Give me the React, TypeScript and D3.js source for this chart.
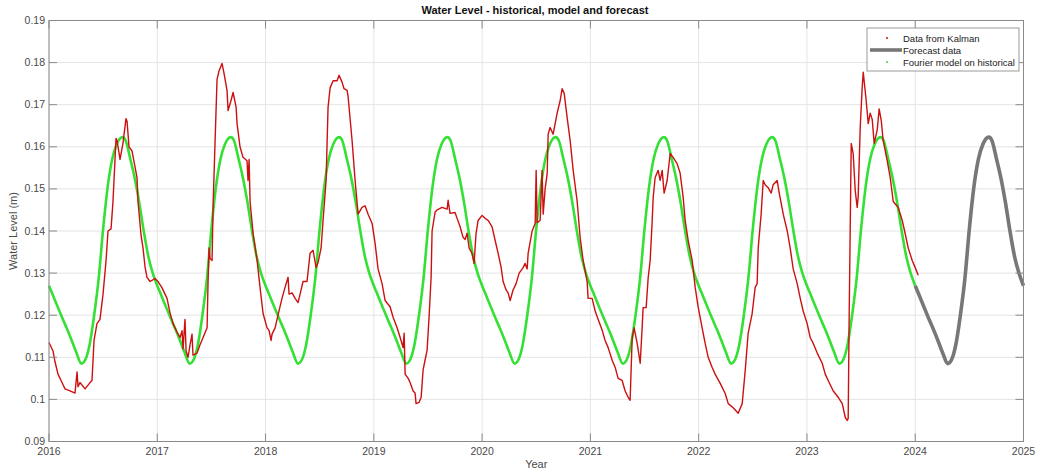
import * as d3 from 'd3';

// axis ticks
const years = [2016, 2017, 2018, 2019, 2020, 2021, 2022, 2023, 2024, 2025];
const levelTicks = [0.09, 0.1, 0.11, 0.12, 0.13, 0.14, 0.15, 0.16, 0.17, 0.18, 0.19];
const levelTickLabels = ['0.09', '0.1', '0.11', '0.12', '0.13', '0.14', '0.15', '0.16', '0.17', '0.18', '0.19'];

// Kalman-filtered water level, [decimal year, level in m]
const kalman: [number, number][] = [
	[2016.0, 0.1135], [2016.037, 0.1115], [2016.055, 0.109], [2016.083, 0.106], [2016.12, 0.104],
	[2016.148, 0.1025], [2016.194, 0.102], [2016.24, 0.1015], [2016.259, 0.1065], [2016.268, 0.103],
	[2016.286, 0.104], [2016.333, 0.1025], [2016.379, 0.104], [2016.397, 0.1045], [2016.416, 0.114],
	[2016.443, 0.118], [2016.471, 0.119], [2016.499, 0.125], [2016.527, 0.133], [2016.545, 0.14],
	[2016.573, 0.1405], [2016.591, 0.147], [2016.619, 0.162], [2016.628, 0.1615], [2016.656, 0.157],
	[2016.684, 0.161], [2016.711, 0.1667], [2016.721, 0.166], [2016.739, 0.16], [2016.767, 0.159],
	[2016.813, 0.1527], [2016.822, 0.147], [2016.85, 0.139], [2016.868, 0.136], [2016.887, 0.1315],
	[2016.905, 0.129], [2016.933, 0.128], [2016.979, 0.1287], [2017.007, 0.128], [2017.044, 0.1265],
	[2017.09, 0.124], [2017.118, 0.1205], [2017.146, 0.118], [2017.182, 0.116], [2017.21, 0.1147],
	[2017.229, 0.1163], [2017.238, 0.112], [2017.256, 0.119], [2017.266, 0.1115], [2017.284, 0.11],
	[2017.303, 0.113], [2017.321, 0.1155], [2017.33, 0.1105], [2017.367, 0.111], [2017.395, 0.113],
	[2017.423, 0.1147], [2017.46, 0.117], [2017.469, 0.128], [2017.478, 0.136], [2017.487, 0.1335],
	[2017.506, 0.133], [2017.515, 0.1456], [2017.534, 0.1615], [2017.552, 0.176], [2017.57, 0.178],
	[2017.598, 0.1798], [2017.617, 0.1774], [2017.644, 0.1734], [2017.654, 0.1686], [2017.681, 0.171],
	[2017.7, 0.1729], [2017.728, 0.1694], [2017.737, 0.1655], [2017.764, 0.16], [2017.792, 0.1575],
	[2017.829, 0.1567], [2017.838, 0.152], [2017.848, 0.157], [2017.857, 0.147], [2017.885, 0.1394],
	[2017.922, 0.133], [2017.949, 0.1266], [2017.977, 0.1204], [2018.014, 0.117], [2018.032, 0.1164],
	[2018.051, 0.114], [2018.06, 0.1155], [2018.088, 0.117], [2018.115, 0.12], [2018.152, 0.124],
	[2018.18, 0.1266], [2018.208, 0.129], [2018.217, 0.125], [2018.245, 0.1253], [2018.273, 0.124],
	[2018.3, 0.123], [2018.319, 0.125], [2018.346, 0.128], [2018.383, 0.128], [2018.411, 0.1347],
	[2018.439, 0.1354], [2018.467, 0.1313], [2018.485, 0.1325], [2018.513, 0.136], [2018.531, 0.1425],
	[2018.559, 0.152], [2018.577, 0.1693], [2018.596, 0.174], [2018.624, 0.1757], [2018.661, 0.1757],
	[2018.679, 0.177], [2018.707, 0.1753], [2018.725, 0.1738], [2018.753, 0.1734], [2018.762, 0.172],
	[2018.799, 0.1615], [2018.827, 0.152], [2018.855, 0.144], [2018.891, 0.1456], [2018.919, 0.146],
	[2018.947, 0.144], [2018.984, 0.1418], [2019.012, 0.137], [2019.039, 0.131], [2019.076, 0.1275],
	[2019.104, 0.1235], [2019.15, 0.122], [2019.178, 0.1195], [2019.215, 0.117], [2019.243, 0.1147],
	[2019.27, 0.1123], [2019.28, 0.1157], [2019.289, 0.106], [2019.317, 0.105], [2019.335, 0.104],
	[2019.363, 0.102], [2019.381, 0.1015], [2019.39, 0.099], [2019.418, 0.0993], [2019.437, 0.1005],
	[2019.455, 0.107], [2019.473, 0.1093], [2019.492, 0.1117], [2019.51, 0.1195], [2019.529, 0.129],
	[2019.538, 0.14], [2019.566, 0.1445], [2019.584, 0.145], [2019.63, 0.1456], [2019.677, 0.1452],
	[2019.686, 0.1473], [2019.704, 0.1442], [2019.75, 0.1444], [2019.769, 0.143], [2019.797, 0.141],
	[2019.824, 0.1385], [2019.843, 0.138], [2019.861, 0.1395], [2019.88, 0.136], [2019.907, 0.1347],
	[2019.926, 0.1323], [2019.944, 0.1394], [2019.963, 0.1425], [2020.0, 0.1437], [2020.028, 0.143],
	[2020.056, 0.1425], [2020.092, 0.141], [2020.12, 0.1378], [2020.148, 0.1347], [2020.176, 0.1313],
	[2020.194, 0.128], [2020.222, 0.126], [2020.24, 0.1253], [2020.259, 0.1235], [2020.286, 0.126],
	[2020.314, 0.1275], [2020.342, 0.13], [2020.379, 0.1313], [2020.397, 0.1323], [2020.416, 0.131],
	[2020.425, 0.1347], [2020.462, 0.14], [2020.49, 0.1418], [2020.499, 0.1544], [2020.508, 0.142],
	[2020.536, 0.1425], [2020.554, 0.1544], [2020.564, 0.144], [2020.582, 0.15], [2020.601, 0.1537],
	[2020.61, 0.163], [2020.628, 0.1646], [2020.656, 0.163], [2020.693, 0.168], [2020.721, 0.171],
	[2020.739, 0.1738], [2020.758, 0.1727], [2020.785, 0.167], [2020.813, 0.1615], [2020.841, 0.1544],
	[2020.878, 0.147], [2020.905, 0.1385], [2020.933, 0.133], [2020.97, 0.128], [2020.979, 0.124],
	[2021.016, 0.124], [2021.044, 0.121], [2021.072, 0.119], [2021.109, 0.1164], [2021.136, 0.114],
	[2021.164, 0.1123], [2021.201, 0.1093], [2021.229, 0.1076], [2021.256, 0.105], [2021.293, 0.1045],
	[2021.321, 0.102], [2021.349, 0.1005], [2021.367, 0.0998], [2021.386, 0.1147], [2021.404, 0.117],
	[2021.432, 0.1133], [2021.46, 0.1086], [2021.478, 0.117], [2021.487, 0.1218], [2021.515, 0.1218],
	[2021.534, 0.129], [2021.552, 0.133], [2021.571, 0.1425], [2021.58, 0.148], [2021.598, 0.1527],
	[2021.626, 0.1544], [2021.644, 0.152], [2021.663, 0.1544], [2021.681, 0.149], [2021.709, 0.152],
	[2021.737, 0.1584], [2021.764, 0.1575], [2021.801, 0.156], [2021.829, 0.1537], [2021.857, 0.148],
	[2021.875, 0.1425], [2021.903, 0.1378], [2021.94, 0.133], [2021.968, 0.1266], [2021.995, 0.122],
	[2022.032, 0.117], [2022.06, 0.1133], [2022.088, 0.11], [2022.125, 0.1076], [2022.152, 0.106],
	[2022.199, 0.1038], [2022.245, 0.1014], [2022.273, 0.099], [2022.319, 0.098], [2022.365, 0.0967],
	[2022.402, 0.099], [2022.43, 0.1069], [2022.457, 0.1157], [2022.494, 0.1204], [2022.522, 0.1266],
	[2022.54, 0.1275], [2022.55, 0.136], [2022.577, 0.144], [2022.596, 0.152], [2022.614, 0.151],
	[2022.642, 0.1503], [2022.67, 0.149], [2022.688, 0.151], [2022.725, 0.152], [2022.744, 0.149],
	[2022.781, 0.144], [2022.818, 0.14], [2022.845, 0.136], [2022.873, 0.131], [2022.91, 0.1275],
	[2022.938, 0.124], [2022.965, 0.121], [2023.002, 0.118], [2023.03, 0.1147], [2023.058, 0.1133],
	[2023.095, 0.111], [2023.141, 0.1086], [2023.169, 0.106], [2023.196, 0.1045], [2023.243, 0.102],
	[2023.289, 0.1005], [2023.326, 0.099], [2023.354, 0.0957], [2023.372, 0.095], [2023.381, 0.0955],
	[2023.39, 0.12], [2023.409, 0.1608], [2023.427, 0.1584], [2023.446, 0.1496], [2023.464, 0.1456],
	[2023.473, 0.148], [2023.492, 0.1646], [2023.51, 0.174], [2023.52, 0.1777], [2023.547, 0.171],
	[2023.566, 0.1655], [2023.584, 0.168], [2023.603, 0.1665], [2023.621, 0.1608], [2023.649, 0.164],
	[2023.667, 0.169], [2023.686, 0.1663], [2023.704, 0.1615], [2023.741, 0.1567], [2023.769, 0.1527],
	[2023.797, 0.147], [2023.843, 0.1456], [2023.88, 0.1425], [2023.907, 0.1394], [2023.935, 0.136],
	[2023.972, 0.133], [2024.0, 0.1313], [2024.028, 0.1295],
];

// one yearly cycle of the Fourier model: phase within the year and level
const modelPhase = [
	0, 0.042, 0.083, 0.125, 0.167, 0.208, 0.25, 0.3, 0.333, 0.375, 0.417, 0.458,
	0.5, 0.542, 0.583, 0.625, 0.68, 0.708, 0.75, 0.792, 0.833, 0.875, 0.917, 0.958,
];
const modelLevel = [
	0.127, 0.1244, 0.1218, 0.1192, 0.1167, 0.1141, 0.1113, 0.1085, 0.1093, 0.113, 0.12, 0.1285,
	0.1405, 0.1505, 0.157, 0.1606, 0.1623, 0.1615, 0.1572, 0.1525, 0.1468, 0.14, 0.134, 0.13,
];
const historicYears = [2016, 2017, 2018, 2019, 2020, 2021, 2022, 2023];
const forecastYears = [2024];

function cycles(list: number[]): [number, number][] {
	const pts: [number, number][] = [];
	list.forEach((yr) => modelPhase.forEach((p, i) => pts.push([yr + p, modelLevel[i]])));
	pts.push([list[list.length - 1] + 1, modelLevel[0]]);
	return pts;
}

const FONT = '"Liberation Sans", Arial, sans-serif';

export default function App() {
	const width = 1046;
	const height = 472;
	const margin = { top: 20.5, right: 22.5, bottom: 30.5, left: 49 };

	const x = d3.scaleLinear().domain([2016, 2025]).range([margin.left, width - margin.right]);
	const y = d3.scaleLinear().domain([0.09, 0.19]).range([height - margin.bottom, margin.top]);

	const line = d3
		.line<[number, number]>()
		.x((d) => x(d[0]))
		.y((d) => y(d[1]));
	const smooth = d3
		.line<[number, number]>()
		.x((d) => x(d[0]))
		.y((d) => y(d[1]))
		.curve(d3.curveMonotoneX);

	const x0 = x(2016);
	const x1 = x(2025);
	const y0 = y(0.09);
	const y1 = y(0.19);
	const tick = 8;
	const axisColor = '#8a8a8a';
	const textColor = '#4a4a4a';

	const legendX = 867;
	const legendY = 28;

	return (
		<svg
			width={width}
			height={height}
			style={{ position: 'absolute', left: 0, top: 0, background: '#fff' }}
			fontFamily={FONT}
		>
			{/* grid */}
			{years.map((yr) => (
				<line key={'gx' + yr} x1={x(yr)} x2={x(yr)} y1={y1} y2={y0} stroke='#e4e4e4' />
			))}
			{levelTicks.map((v) => (
				<line key={'gy' + v} x1={x0} x2={x1} y1={y(v)} y2={y(v)} stroke='#e4e4e4' />
			))}

			{/* model on historical */}
			<path d={smooth(cycles(historicYears)) ?? ''} fill='none' stroke='#35e035' strokeWidth={2.6} />
			{/* forecast */}
			<path d={smooth(cycles(forecastYears)) ?? ''} fill='none' stroke='#777777' strokeWidth={3.6} />
			{/* kalman data */}
			<path d={line(kalman) ?? ''} fill='none' stroke='#cc1010' strokeWidth={1.4} strokeLinejoin='round' />

			{/* axes box + ticks */}
			<rect x={x0} y={y1} width={x1 - x0} height={y0 - y1} fill='none' stroke={axisColor} />
			{years.map((yr) => (
				<g key={'tx' + yr}>
					<line x1={x(yr)} x2={x(yr)} y1={y0} y2={y0 - tick} stroke={axisColor} />
					<line x1={x(yr)} x2={x(yr)} y1={y1} y2={y1 + tick} stroke={axisColor} />
					<text x={x(yr)} y={y0 + 13} textAnchor='middle' fontSize={10.5} fill={textColor}>
						{yr}
					</text>
				</g>
			))}
			{levelTicks.map((v, i) => (
				<g key={'ty' + v}>
					<line x1={x0} x2={x0 + tick} y1={y(v)} y2={y(v)} stroke={axisColor} />
					<line x1={x1} x2={x1 - tick} y1={y(v)} y2={y(v)} stroke={axisColor} />
					<text x={x0 - 4} y={y(v) + 3.5} textAnchor='end' fontSize={10.5} fill={textColor}>
						{levelTickLabels[i]}
					</text>
				</g>
			))}

			{/* labels */}
			<text x={(x0 + x1) / 2} y={y0 + 26} textAnchor='middle' fontSize={11} fill={textColor}>
				Year
			</text>
			<text
				transform={`translate(17,${(y0 + y1) / 2}) rotate(-90)`}
				textAnchor='middle'
				fontSize={11}
				fill={textColor}
			>
				Water Level (m)
			</text>
			<text x={535} y={14} textAnchor='middle' fontSize={11} fontWeight='bold' fill='#111'>
				Water Level - historical, model and forecast
			</text>

			{/* legend */}
			<rect x={legendX} y={legendY} width={152} height={43} fill='#fff' stroke='#9a9a9a' />
			<circle cx={legendX + 20} cy={legendY + 10} r={1} fill='#cc1010' />
			<line x1={legendX + 3} x2={legendX + 35} y1={legendY + 22} y2={legendY + 22} stroke='#777777' strokeWidth={3.6} />
			<circle cx={legendX + 20} cy={legendY + 34} r={1} fill='#35e035' />
			{['Data from Kalman', 'Forecast data', 'Fourier model on historical'].map((t, i) => (
				<text key={t} x={legendX + 36} y={legendY + 13.5 + i * 12} fontSize={9.5} fill='#222'>
					{t}
				</text>
			))}
		</svg>
	);
}
